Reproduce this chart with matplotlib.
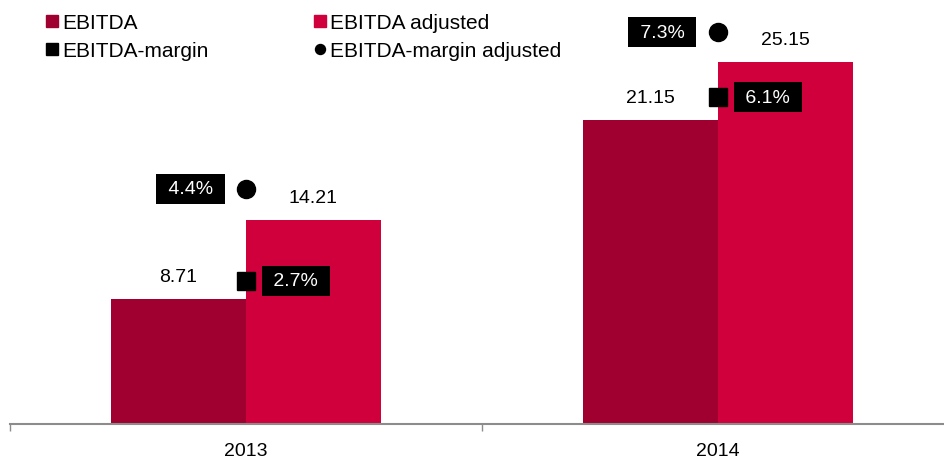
import matplotlib
matplotlib.use("Agg")
import matplotlib.pyplot as plt
from matplotlib.lines import Line2D

plt.rcParams['font.family'] = ['Liberation Sans', 'DejaVu Sans']

years = ["2013", "2014"]
ebitda = [8.71, 21.15]
ebitda_adj = [14.21, 25.15]
margin = [2.7, 6.1]
margin_adj = [4.4, 7.3]

dark = "#A00030"
light = "#D0003C"

fig = plt.figure(figsize=(9.44, 4.6), dpi=100)
ax = fig.add_axes([10 / 944, 35 / 460, 1.0, 402.6 / 460])
ax2 = ax.twinx()

w = 0.286
x = list(range(len(years)))
ax.bar([i - w / 2 for i in x], ebitda, w, color=dark, zorder=2)
ax.bar([i + w / 2 for i in x], ebitda_adj, w, color=light, zorder=2)
ax.set_xlim(-0.5, 1.5)
ax.set_ylim(0, 28)

for i in x:
    ax.annotate(f"{ebitda[i]:.2f}", (i - w / 2, ebitda[i]), xytext=(0, 10),
                textcoords="offset points", ha="center", va="bottom", fontsize=14)
    ax.annotate(f"{ebitda_adj[i]:.2f}", (i + w / 2, ebitda_adj[i]), xytext=(0, 10),
                textcoords="offset points", ha="center", va="bottom", fontsize=14)

# margins on a secondary scale
ax2.set_ylim(0.046, 7.5)
ax2.plot(x, margin, ls="none", marker="s", ms=13.5, color="black", zorder=3)
ax2.plot(x, margin_adj, ls="none", marker="o", ms=13, color="black", zorder=3)
box = dict(boxstyle="square,pad=0.33", fc="black", ec="none")
for i in x:
    ax2.annotate(f" {margin[i]:.1f}% ", (i, margin[i]), xytext=(36, 0),
                 textcoords="offset points", ha="center", va="center",
                 fontsize=14, color="white", bbox=box)
    ax2.annotate(f" {margin_adj[i]:.1f}% ", (i, margin_adj[i]), xytext=(-40, 0),
                 textcoords="offset points", ha="center", va="center",
                 fontsize=14, color="white", bbox=box)

for a in (ax, ax2):
    for s in ("top", "right", "left"):
        a.spines[s].set_visible(False)
    a.set_yticks([])
ax2.spines["bottom"].set_visible(False)
ax.spines["bottom"].set_color("#8c8c8c")
ax.spines["bottom"].set_linewidth(1.5)

ax.set_xticks([-0.5, 0.5])
ax.set_xticklabels([])
ax.tick_params(axis="x", which="major", length=5, width=1, color="#8c8c8c")
ax.set_xticks(x, minor=True)
ax.set_xticklabels(years, minor=True, fontsize=14)
ax.tick_params(axis="x", which="minor", length=0, pad=13)

handles = [
    Line2D([], [], ls="none", marker="s", ms=8, color=dark),
    Line2D([], [], ls="none", marker="s", ms=8, color="black"),
    Line2D([], [], ls="none", marker="s", ms=8, color=light),
    Line2D([], [], ls="none", marker="o", ms=7.2, color="black"),
]
labels = ["EBITDA", "EBITDA-margin", "EBITDA adjusted", "EBITDA-margin adjusted"]
fig.legend(handles, labels, loc="upper left", bbox_to_anchor=(37.5 / 944, 1 - 6 / 460),
           ncol=2, frameon=False, fontsize=15, handlelength=0.56, handletextpad=0.235,
           columnspacing=5.04, labelspacing=0.41, borderaxespad=0)

fig.savefig("out.png", dpi=100)
